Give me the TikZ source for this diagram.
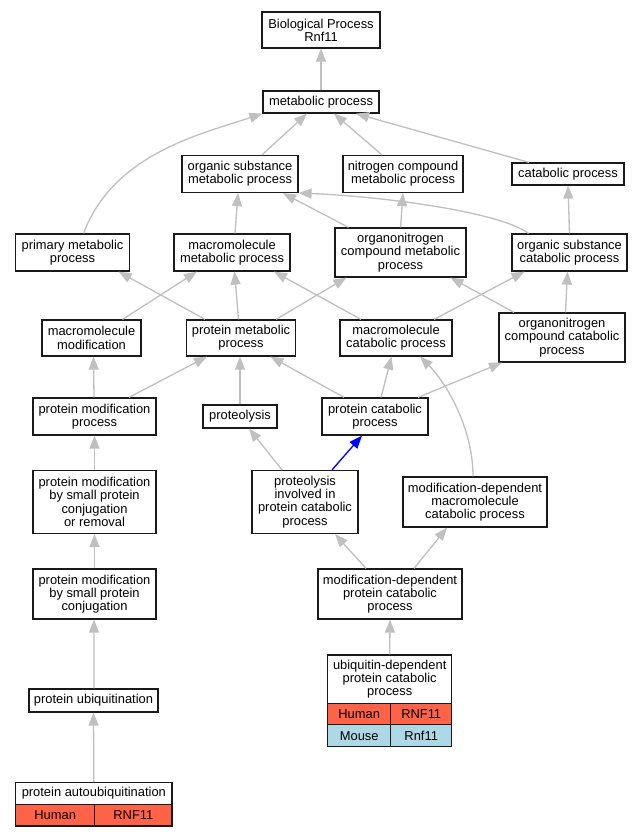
\documentclass[tikz,border=0pt]{standalone}
\usepackage{fontspec}
\setmainfont{Liberation Sans}
\usetikzlibrary{arrows.meta}
\definecolor{edgegray}{HTML}{C0C0C0}
\definecolor{tomatofill}{HTML}{FF6347}
\definecolor{lbluefill}{HTML}{ADD8E6}
\definecolor{borderc}{HTML}{1A1A1A}
\newcommand\nodefont{\fontsize{12.9bp}{13.3bp}\selectfont}
\tikzset{
  box/.style={draw=borderc, line width=1.2bp, fill=white, inner sep=0pt, align=center, font=\nodefont},
  human/.style={box, fill=tomatofill},
  mouse/.style={box, fill=lbluefill},
  edge/.style={draw=edgegray, line width=1.3bp, -{Triangle[length=13bp,width=10bp]}},
  keyedge/.style={edge, draw=blue},
}
\begin{document}
\begin{tikzpicture}[x=1bp,y=-1bp]
\fill[white] (0,0) rectangle (644,837);
\useasboundingbox (0,0) rectangle (644,837);

% nodes
\node[box, minimum width=118bp, minimum height=36bp] (bp) at (321,30) {Biological Process\\Rnf11};
\node[box, minimum width=116bp, minimum height=22bp] (mp) at (321,102) {metabolic process};
\node[box, minimum width=116bp, minimum height=37bp] (osmp) at (240,174) {organic substance\\metabolic process};
\node[box, minimum width=120bp, minimum height=37bp] (ncmp) at (403,174) {nitrogen compound\\metabolic process};
\node[box, minimum width=112bp, minimum height=22bp] (cat) at (568,174) {catabolic process};
\node[box, minimum width=114bp, minimum height=37bp] (pmp) at (72.5,252.5) {primary metabolic\\process};
\node[box, minimum width=116bp, minimum height=37bp] (mmp) at (232,252.5) {macromolecule\\metabolic process};
\node[box, minimum width=131bp, minimum height=49bp] (ocmp) at (400.5,252.5) {organonitrogen\\compound metabolic\\process};
\node[box, minimum width=115bp, minimum height=37bp] (oscp) at (569.5,252.5) {organic substance\\catabolic process};
\node[box, minimum width=99bp, minimum height=36bp] (mm) at (91.5,338) {macromolecule\\modification};
\node[box, minimum width=109bp, minimum height=36bp] (pmpr) at (241,338) {protein metabolic\\process};
\node[box, minimum width=112bp, minimum height=36bp] (mcp) at (396,338) {macromolecule\\catabolic process};
\node[box, minimum width=126bp, minimum height=49bp] (occp) at (562,337.5) {organonitrogen\\compound catabolic\\process};
\node[box, minimum width=123bp, minimum height=37bp] (pmodp) at (94.5,416.5) {protein modification\\process};
\node[box, minimum width=74bp, minimum height=23bp] (prot) at (240,416.5) {proteolysis};
\node[box, minimum width=106bp, minimum height=37bp] (pcp) at (375,416.5) {protein catabolic\\process};
\node[box, minimum width=123bp, minimum height=63bp] (pmspcr) at (94.5,502) {protein modification\\by small protein\\conjugation\\or removal};
\node[box, minimum width=106bp, minimum height=63bp] (pipcp) at (305,502) {proteolysis\\involved in\\protein catabolic\\process};
\node[box, minimum width=144bp, minimum height=50bp] (mdmcp) at (475,502) {modification-dependent\\macromolecule\\catabolic process};
\node[box, minimum width=123bp, minimum height=50bp] (pmspc) at (94.5,594) {protein modification\\by small protein\\conjugation};
\node[box, minimum width=144bp, minimum height=50bp] (mdpcp) at (390,594) {modification-dependent\\protein catabolic\\process};
\node[box, minimum width=129bp, minimum height=23bp] (pu) at (93.5,700.5) {protein ubiquitination};

% ubiquitin-dependent table
\node[box, minimum width=124bp, minimum height=48.3bp] (udpcp) at (389.7,679.15) {ubiquitin-dependent\\protein catabolic\\process};
\node[human, minimum width=63bp, minimum height=21.4bp] (udH) at (359.2,714) {Human};
\node[human, minimum width=61bp, minimum height=21.4bp] (udHg) at (421.2,714) {RNF11};
\node[mouse, minimum width=63bp, minimum height=22bp] (udM) at (359.2,735.7) {Mouse};
\node[mouse, minimum width=61bp, minimum height=22bp] (udMg) at (421.2,735.7) {Rnf11};

% protein autoubiquitination table
\node[box, minimum width=156.3bp, minimum height=21.6bp] (pa) at (93.85,793.5) {protein autoubiquitination};
\node[human, minimum width=79bp, minimum height=21.7bp] (paH) at (55.2,815.15) {Human};
\node[human, minimum width=77.3bp, minimum height=21.7bp] (paG) at (133.35,815.15) {RNF11};

% edges
\draw[edge] (mp) -- (bp);
\draw[edge] ([xshift=22bp]osmp.north) -- ([xshift=-14bp]mp.south);
\draw[edge] ([xshift=-21bp]ncmp.north) -- ([xshift=13bp]mp.south);
\draw[edge] ([xshift=-39bp]cat.north) -- ([xshift=35bp]mp.south);
\draw[edge] ([xshift=11bp]pmp.north) .. controls +(30,-80) and +(-60,20) .. (mp.south west);
\draw[edge] ([xshift=3bp]mmp.north) -- ([xshift=-2bp]osmp.south);
\draw[edge] ([xshift=-52bp]ocmp.north) -- ([xshift=43bp]osmp.south);
\draw[edge] (ocmp.north) -- (ncmp.south);
\draw[edge] ([xshift=-41bp]oscp.north) .. controls +(-29,-22) and +(80,3) .. (osmp.south east);
\draw[edge] (oscp.north) -- (cat.south);
\draw[edge] ([xshift=-36bp]pmpr.north) -- ([xshift=46bp]pmp.south);
\draw[edge] ([xshift=31bp]mm.north) -- ([xshift=-35bp]mmp.south);
\draw[edge] ([xshift=-2.5bp]pmpr.north) -- ([xshift=2.5bp]mmp.south);
\draw[edge] ([xshift=-35bp]mcp.north) -- ([xshift=42bp]mmp.south);
\draw[edge] ([xshift=35bp]pmpr.north) -- ([xshift=-54bp]ocmp.south);
\draw[edge] ([xshift=-48bp]occp.north) -- ([xshift=50bp]ocmp.south);
\draw[edge] ([xshift=38bp]mcp.north) -- ([xshift=-45bp]oscp.south);
\draw[edge] ([xshift=3.5bp]occp.north) -- ([xshift=-2bp]oscp.south);
\draw[edge] ([xshift=-0.5bp]pmodp.north) -- ([xshift=2bp]mm.south);
\draw[edge] ([xshift=34.5bp]pmodp.north) -- ([xshift=-34bp]pmpr.south);
\draw[edge] (prot.north) -- ([xshift=-1bp]pmpr.south);
\draw[edge] ([xshift=-31bp]pcp.north) -- ([xshift=29.5bp]pmpr.south);
\draw[edge] ([xshift=6bp]pcp.north) -- ([xshift=-4.5bp]mcp.south);
\draw[edge] ([xshift=43bp]pcp.north) -- ([xshift=-60bp]occp.south);
\draw[edge] ([xshift=-2bp]mdmcp.north) .. controls +(0,-50) and +(25,25) .. ([xshift=24bp]mcp.south);
\draw[edge] (pmspcr.north) -- (pmodp.south);
\draw[edge] ([xshift=-23bp]pipcp.north) -- ([xshift=9bp]prot.south);
\draw[keyedge] ([xshift=27bp]pipcp.north) -- ([xshift=-13bp]pcp.south);
\draw[edge] (pmspc.north) -- (pmspcr.south);
\draw[edge] ([xshift=-24bp]mdpcp.north) -- ([xshift=30bp]pipcp.south);
\draw[edge] ([xshift=24bp]mdpcp.north) -- ([xshift=-28bp]mdmcp.south);
\draw[edge] ([xshift=0.5bp]pu.north) -- ([xshift=-0.5bp]pmspc.south);
\draw[edge] (udpcp.north) -- (mdpcp.south);
\draw[edge] (pa.north) -- (pu.south);
\end{tikzpicture}
\end{document}
